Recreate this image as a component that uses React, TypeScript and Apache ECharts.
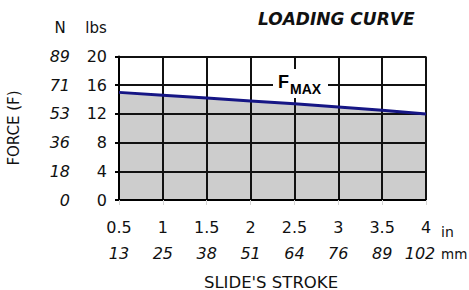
import React, { useEffect, useRef } from "react";
import * as echarts from "echarts";

const strokeIn = [0.5, 1, 1.5, 2, 2.5, 3, 3.5, 4];
const strokeInLabels = ["0.5", "1", "1.5", "2", "2.5", "3", "3.5", "4"];
const strokeMm = ["13", "25", "38", "51", "64", "76", "89", "102"];
const forceLbs = [15.0, 14.6, 14.2, 13.8, 13.4, 12.95, 12.5, 12.0];
const lbsTicks = [0, 4, 8, 12, 16, 20];
const nTicks = ["0", "18", "36", "53", "71", "89"];

const FONT = "DejaVu Sans";

export default function App() {
  const ref = useRef<HTMLDivElement>(null);
  useEffect(() => {
    document.body.style.margin = "0";
    const chart = echarts.init(ref.current!, null, { renderer: "svg" });
    const pts = strokeIn.map((x, i) => [x, forceLbs[i]]);
    const last = strokeIn.length - 1;
    chart.setOption({
      animation: false,
      grid: { left: 119, right: 43, top: 56.5, bottom: 90 },
      xAxis: {
        type: "value",
        min: 0.5,
        max: 4,
        interval: 0.5,
        z: 3,
        axisLine: { show: true, lineStyle: { color: "#000", width: 2 } },
        axisTick: { show: true, length: 5, lineStyle: { color: "#d4d4d4", width: 1 } },
        splitLine: { show: true, lineStyle: { color: "#111", width: 2 } },
        axisLabel: {
          margin: 14,
          formatter: (v: number) => {
            const i = strokeIn.findIndex((s) => Math.abs(s - v) < 1e-6);
            if (i < 0) return "";
            const b = i === last ? "c" : "b";
            return `{a|${strokeInLabels[i]}}\n{${b}|${strokeMm[i]}}`;
          },
          rich: {
            a: { fontFamily: FONT, fontSize: 16, color: "#111", lineHeight: 26 },
            b: { fontFamily: FONT, fontSize: 16, fontStyle: "italic", color: "#111", lineHeight: 26 },
            c: { fontFamily: FONT, fontSize: 16, fontStyle: "italic", color: "#111", lineHeight: 26, padding: [0, 12, 0, 0] },
          },
        },
      },
      yAxis: [
        {
          type: "value",
          min: 0,
          max: 20,
          interval: 4,
          position: "left",
          z: 3,
          axisLine: { show: true, lineStyle: { color: "#000", width: 2 } },
          axisTick: { show: true, length: 4, lineStyle: { color: "#000", width: 2 } },
          splitLine: { show: true, lineStyle: { color: "#111", width: 2 } },
          axisLabel: {
            margin: 12,
            fontFamily: FONT,
            fontSize: 16,
            color: "#111",
            formatter: (v: number) => (lbsTicks.includes(v) ? String(v) : ""),
          },
        },
        {
          type: "value",
          min: 0,
          max: 20,
          interval: 4,
          position: "left",
          offset: 41,
          axisLine: { show: false },
          axisTick: { show: false },
          splitLine: { show: false },
          axisLabel: {
            margin: 8,
            fontFamily: FONT,
            fontSize: 16,
            fontStyle: "italic",
            color: "#111",
            formatter: (v: number) => {
              const i = lbsTicks.indexOf(v);
              return i >= 0 ? nTicks[i] : "";
            },
          },
        },
      ],
      series: [
        {
          type: "line",
          data: pts,
          symbol: "none",
          z: 1,
          lineStyle: { width: 0, opacity: 0 },
          areaStyle: { color: "#cdcdcd", opacity: 1 },
        },
        {
          type: "line",
          data: pts,
          symbol: "none",
          z: 5,
          lineStyle: { color: "#161685", width: 3 },
        },
      ],
      graphic: [
        {
          type: "text",
          x: 258,
          y: 19,
          style: {
            text: "LOADING CURVE",
            fontFamily: FONT,
            fontSize: 17,
            fontWeight: "bold",
            fontStyle: "italic",
            fill: "#111",
            verticalAlign: "middle",
          },
        },
        {
          type: "text",
          x: 60,
          y: 27.5,
          style: { text: "N", fontFamily: FONT, fontSize: 15, fill: "#111", align: "center", verticalAlign: "middle" },
        },
        {
          type: "text",
          x: 96,
          y: 27.5,
          style: { text: "lbs", fontFamily: FONT, fontSize: 15, fill: "#111", align: "center", verticalAlign: "middle" },
        },
        {
          type: "text",
          x: 14,
          y: 128,
          rotation: Math.PI / 2,
          style: { text: "FORCE (F)", fontFamily: FONT, fontSize: 15, fill: "#111", align: "center", verticalAlign: "middle" },
        },
        {
          type: "text",
          x: 271,
          y: 282,
          style: { text: "SLIDE'S STROKE", fontFamily: FONT, fontSize: 16.5, fill: "#111", align: "center", verticalAlign: "middle" },
        },
        {
          type: "text",
          x: 441,
          y: 232,
          style: { text: "in", fontFamily: FONT, fontSize: 14, fill: "#111", verticalAlign: "middle" },
        },
        {
          type: "text",
          x: 441,
          y: 254,
          style: { text: "mm", fontFamily: FONT, fontSize: 13.5, fill: "#111", verticalAlign: "middle" },
        },
        {
          type: "rect",
          z: 100,
          shape: { x: 273, y: 69, width: 55, height: 29 },
          style: { fill: "#fff" },
        },
        {
          type: "text",
          z: 101,
          x: 278,
          y: 81.5,
          style: { text: "F", fontFamily: "Liberation Sans", fontSize: 18, fontWeight: "bold", fill: "#000", verticalAlign: "middle" },
        },
        {
          type: "text",
          z: 101,
          x: 290,
          y: 89,
          style: { text: "MAX", fontFamily: "Liberation Sans", fontSize: 14, fontWeight: "bold", fill: "#000", verticalAlign: "middle" },
        },
      ],
    });
    return () => chart.dispose();
  }, []);
  return <div ref={ref} style={{ width: 469, height: 290 }} />;
}
